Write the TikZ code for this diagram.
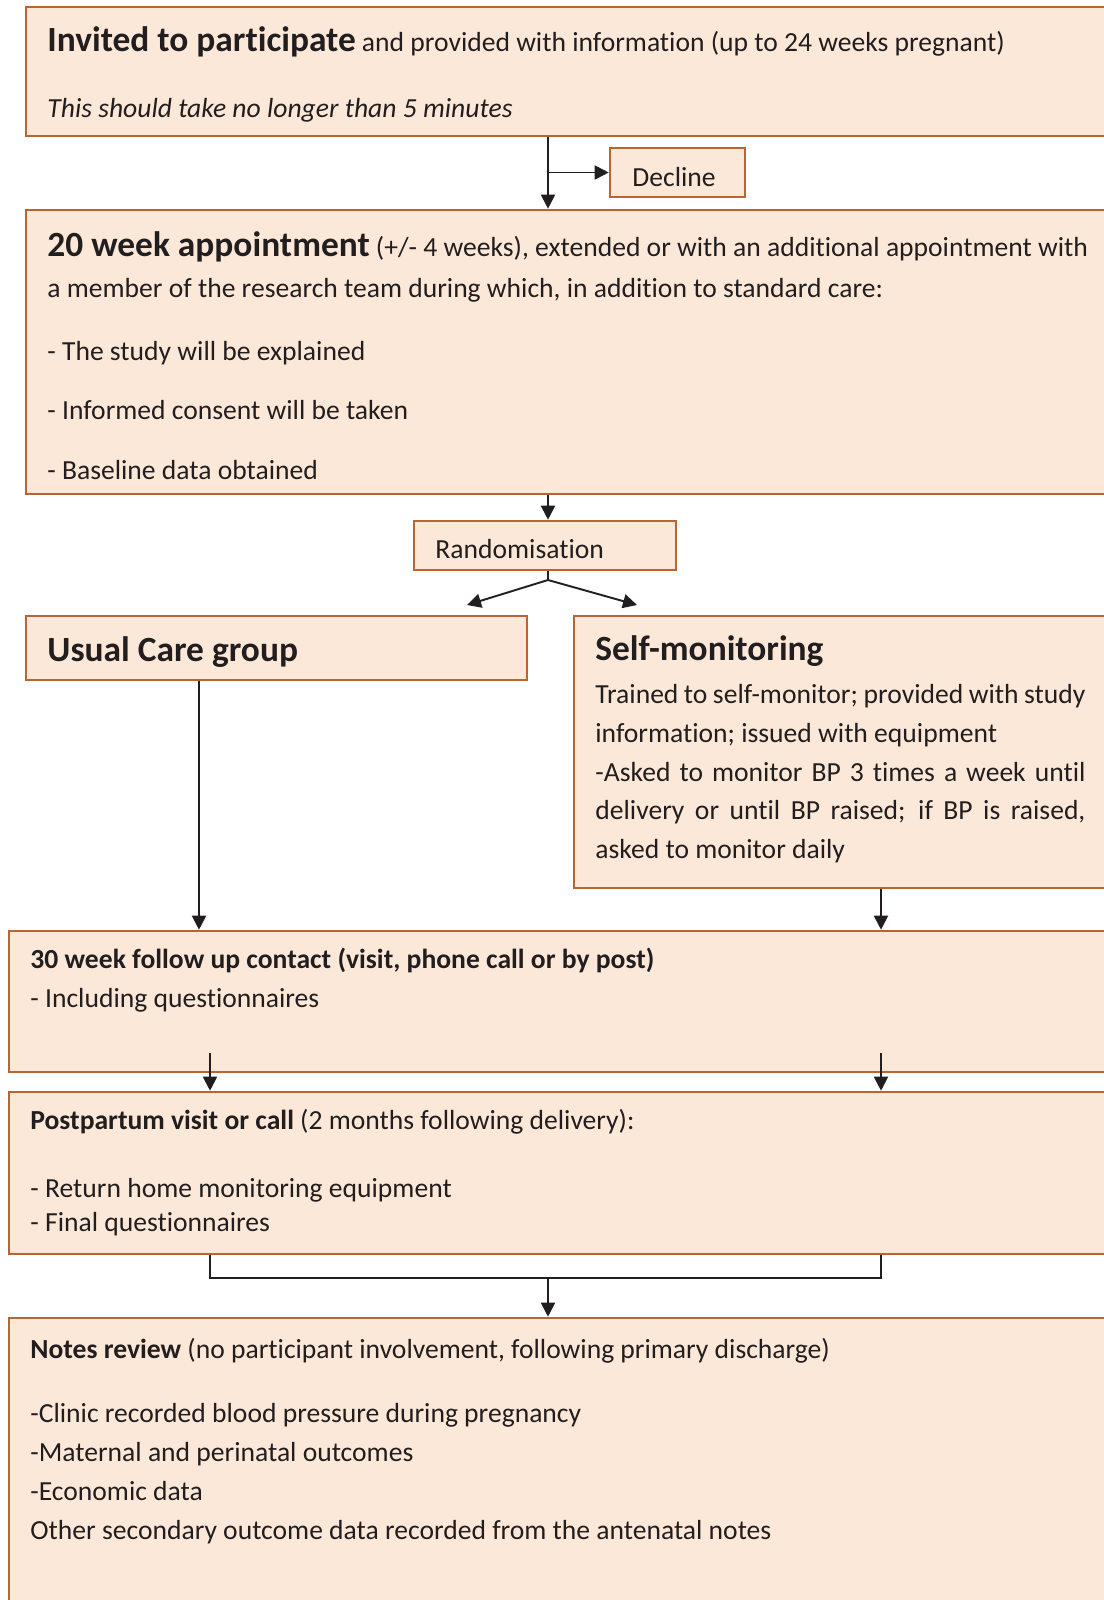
\documentclass[tikz,border=0pt]{standalone}
\usepackage{fontspec}
\setmainfont{Carlito}[Ligatures=NoCommon]
\usetikzlibrary{positioning,fit,arrows.meta}

\definecolor{boxfill}{RGB}{252,232,216}
\definecolor{boxline}{RGB}{186,100,52}
\definecolor{ink}{RGB}{34,30,31}

\newcommand{\bigtxt}{\fontsize{17.7pt}{20pt}\selectfont}
\newcommand{\normtxt}{\fontsize{13.8pt}{16pt}\selectfont}

\tikzset{
  box/.style={draw=boxline, fill=boxfill, line width=1.3pt, inner sep=0pt},
  txt/.style={anchor=base west, inner sep=0pt, text=ink, font=\normtxt},
  arr/.style={-{Triangle[length=7pt,width=7pt]}, draw=ink, line width=0.95pt},
  link/.style={draw=ink, line width=0.95pt}
}

\begin{document}
\begin{tikzpicture}[x=0.5pt,y=-0.5pt]
    \useasboundingbox (0,0) rectangle (1103,1600);
    \fill[white] (0,0) rectangle (1103,1600);

    % boxes
    \node[box, fit={(26,7) (1120,136)}] (invite) {};
    \node[box, fit={(610,148) (745,197)}] (decline) {};
    \node[box, fit={(26,210) (1120,494)}] (appt) {};
    \node[box, fit={(414,521) (676,570)}] (random) {};
    \node[box, fit={(26,616) (527,680)}] (usual) {};
    \node[box, fit={(574,616) (1120,888)}] (selfmon) {};
    \node[box, fit={(9,931) (1120,1072)}] (followup) {};
    \node[box, fit={(9,1092) (1120,1254)}] (postp) {};
    \node[box, fit={(9,1318) (1120,1640)}] (notes) {};

    % columns for the connectors
    \coordinate (mid) at (548,0);
    \coordinate (lcol) at (199,0);
    \coordinate (lcol2) at (210,0);
    \coordinate (rcol) at (881,0);
    \coordinate (split) at (548,580);
    \coordinate (lhead) at (467,605);
    \coordinate (rhead) at (637,605);
    \coordinate (join) at (548,1278);

    % texts
    \node[txt] (t1) at (47,52) {{\bigtxt\bfseries Invited to participate} and provided with information (up to 24 weeks pregnant)};
    \node[txt] (t2) at (47,118) {\itshape This should take no longer than 5 minutes};
    \node[txt] (tdec) at (632,186) {Decline};

    \node[txt] (t3) at (47,256) {{\bigtxt\bfseries 20 week appointment} (+/- 4 weeks), extended or with an additional appointment with};
    \node[txt] (t4) at (47,297) {a member of the research team during which, in addition to standard care:};
    \node[txt] (t5) at (47,360) {- The study will be explained};
    \node[txt] (t6) at (47,419) {- Informed consent will be taken};
    \node[txt] (t7) at (47,479) {- Baseline data obtained};

    \node[txt] (trand) at (435,558) {Randomisation};

    \node[txt] (tusual) at (47,661) {\bigtxt\bfseries Usual Care group};
    \node[txt] (tself) at (595,660) {\bigtxt\bfseries Self-monitoring};
    \node[txt] (s1) at (595,703) {\makebox[245pt][s]{Trained to self-monitor; provided with study}};
    \node[txt] (s2) at (595,742) {information; issued with equipment};
    \node[txt] (s3) at (595,781) {\makebox[245pt][s]{-Asked to monitor BP 3 times a week until}};
    \node[txt] (s4) at (595,819) {\makebox[245pt][s]{delivery or until BP raised; if BP is raised,}};
    \node[txt] (s5) at (595,858) {asked to monitor daily};

    \node[txt] (f1) at (30,968) {\bfseries 30 week follow up contact (visit, phone call or by post)};
    \node[txt] (f2) at (30,1007) {- Including questionnaires};

    \node[txt] (p1) at (30,1129) {{\bfseries Postpartum visit or call} (2 months following delivery):};
    \node[txt] (p2) at (30,1197) {- Return home monitoring equipment};
    \node[txt] (p3) at (30,1231) {- Final questionnaires};

    \node[txt] (n1) at (30,1358) {{\bfseries Notes review} (no participant involvement, following primary discharge)};
    \node[txt] (n2) at (30,1422) {-Clinic recorded blood pressure during pregnancy};
    \node[txt] (n3) at (30,1461) {-Maternal and perinatal outcomes};
    \node[txt] (n4) at (30,1500) {-Economic data};
    \node[txt] (n5) at (30,1539) {Other secondary outcome data recorded from the antenatal notes};

    % connectors
    \draw[arr] (invite.south -| mid) -- (appt.north -| mid);
    \draw[arr] (decline.west -| mid) -- (decline.west);
    \draw[arr] (appt.south -| mid) -- (random.north -| mid);
    \draw[link] (random.south -| split) -- (split);
    \draw[arr] (split) -- (lhead);
    \draw[arr] (split) -- (rhead);
    \draw[arr] (usual.south -| lcol) -- (followup.north -| lcol);
    \draw[arr] (selfmon.south -| rcol) -- (followup.north -| rcol);
    \draw[arr] ([yshift=10pt]followup.south -| lcol2) -- (postp.north -| lcol2);
    \draw[arr] ([yshift=10pt]followup.south -| rcol) -- (postp.north -| rcol);
    \draw[link] (postp.south -| lcol2) |- (join) -| (postp.south -| rcol);
    \draw[arr] (join) -- (notes.north -| join);
\end{tikzpicture}
\end{document}
